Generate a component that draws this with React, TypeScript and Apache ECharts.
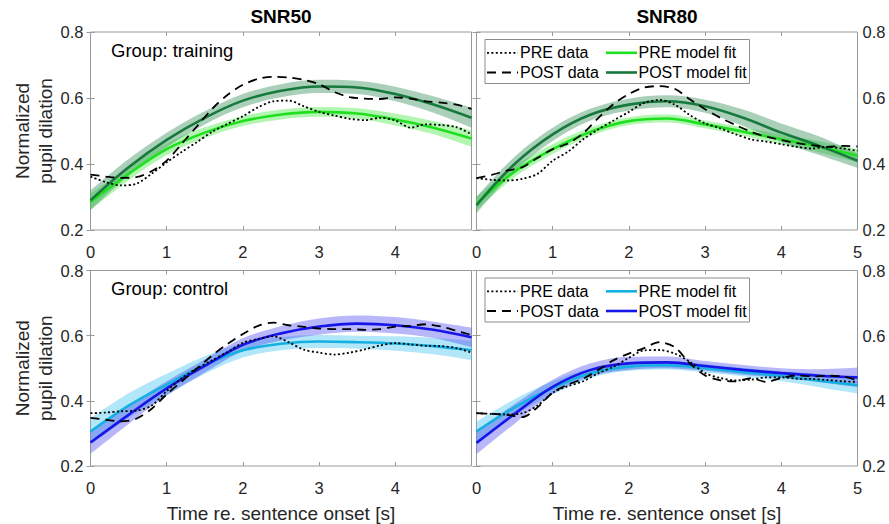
import React, { useEffect, useRef } from "react";
import * as echarts from "echarts";

// ---------- data ----------
const FIT_T = [0, 0.5, 1, 1.5, 2, 2.5, 3, 3.5, 4, 4.5, 5];
const DATA_T = [0, 0.2, 0.4, 0.6, 0.8, 1, 1.2, 1.4, 1.6, 1.8, 2, 2.2, 2.4, 2.6, 2.8, 3, 3.2, 3.4, 3.6, 3.8, 4, 4.2, 4.4, 4.6, 4.8, 5];

const X_TITLE = "Time re. sentence onset [s]";
const Y_TITLE = "Normalized\npupil dilation";
const COLUMN_TITLES = ["SNR50", "SNR80"];
const GROUP_LABELS = ["Group: training", "Group: control"];
const LEGEND_LABELS = ["PRE data", "POST data", "PRE model fit", "POST model fit"];

// training, SNR50
const TRAIN50_PRE_FIT = [0.285, 0.37, 0.445, 0.495, 0.53, 0.55, 0.558, 0.553, 0.535, 0.51, 0.477];
const TRAIN50_PRE_HW = [0.025, 0.02, 0.018, 0.016, 0.015, 0.015, 0.015, 0.016, 0.018, 0.02, 0.025];
const TRAIN50_POST_FIT = [0.29, 0.39, 0.473, 0.54, 0.592, 0.622, 0.635, 0.632, 0.612, 0.58, 0.54];
const TRAIN50_POST_HW = [0.03, 0.025, 0.022, 0.02, 0.02, 0.02, 0.02, 0.02, 0.022, 0.025, 0.03];
const TRAIN50_PRE_DATA = [0.362, 0.345, 0.335, 0.34, 0.37, 0.405, 0.437, 0.467, 0.498, 0.522, 0.545, 0.572, 0.59, 0.592, 0.575, 0.558, 0.547, 0.537, 0.533, 0.54, 0.532, 0.51, 0.52, 0.518, 0.512, 0.49];
const TRAIN50_POST_DATA = [0.368, 0.362, 0.358, 0.36, 0.378, 0.41, 0.462, 0.515, 0.568, 0.61, 0.64, 0.658, 0.664, 0.662, 0.655, 0.642, 0.618, 0.603, 0.598, 0.597, 0.602, 0.598, 0.59, 0.586, 0.58, 0.567];

// training, SNR80
const TRAIN80_PRE_FIT = [0.28, 0.377, 0.445, 0.498, 0.53, 0.538, 0.52, 0.498, 0.475, 0.452, 0.425];
const TRAIN80_PRE_HW = [0.02, 0.017, 0.015, 0.013, 0.012, 0.012, 0.012, 0.013, 0.015, 0.017, 0.02];
const TRAIN80_POST_FIT = [0.275, 0.4, 0.49, 0.55, 0.58, 0.59, 0.575, 0.54, 0.495, 0.455, 0.41];
const TRAIN80_POST_HW = [0.025, 0.022, 0.02, 0.018, 0.018, 0.018, 0.02, 0.025, 0.028, 0.028, 0.022];
const TRAIN80_PRE_DATA = [0.357, 0.352, 0.35, 0.355, 0.37, 0.41, 0.437, 0.475, 0.505, 0.532, 0.558, 0.585, 0.594, 0.58, 0.548, 0.523, 0.508, 0.49, 0.475, 0.468, 0.46, 0.452, 0.447, 0.452, 0.447, 0.44];
const TRAIN80_POST_DATA = [0.357, 0.367, 0.38, 0.39, 0.418, 0.445, 0.462, 0.493, 0.54, 0.582, 0.612, 0.632, 0.636, 0.628, 0.596, 0.566, 0.54, 0.518, 0.498, 0.483, 0.473, 0.463, 0.457, 0.452, 0.455, 0.453];

// control, SNR50
const CTRL50_PRE_FIT = [0.306, 0.385, 0.45, 0.51, 0.555, 0.575, 0.582, 0.58, 0.576, 0.568, 0.555];
const CTRL50_PRE_HW = [0.04, 0.038, 0.033, 0.027, 0.022, 0.02, 0.02, 0.02, 0.022, 0.025, 0.03];
const CTRL50_POST_FIT = [0.272, 0.357, 0.438, 0.507, 0.572, 0.607, 0.628, 0.637, 0.632, 0.618, 0.595];
const CTRL50_POST_HW = [0.035, 0.028, 0.022, 0.02, 0.02, 0.022, 0.025, 0.025, 0.025, 0.025, 0.03];
const CTRL50_PRE_DATA = [0.362, 0.364, 0.368, 0.37, 0.385, 0.43, 0.47, 0.5, 0.525, 0.55, 0.578, 0.59, 0.598, 0.58, 0.557, 0.548, 0.542, 0.548, 0.558, 0.57, 0.577, 0.573, 0.569, 0.568, 0.562, 0.548];
const CTRL50_POST_DATA = [0.348, 0.342, 0.337, 0.345, 0.375, 0.42, 0.46, 0.5, 0.54, 0.575, 0.605, 0.63, 0.64, 0.632, 0.627, 0.622, 0.62, 0.62, 0.618, 0.62, 0.628, 0.63, 0.635, 0.628, 0.615, 0.602];

// control, SNR80
const CTRL80_PRE_FIT = [0.306, 0.38, 0.44, 0.485, 0.505, 0.509, 0.5, 0.488, 0.476, 0.462, 0.448];
const CTRL80_PRE_HW = [0.03, 0.025, 0.02, 0.015, 0.013, 0.013, 0.013, 0.013, 0.015, 0.02, 0.025];
const CTRL80_POST_FIT = [0.271, 0.36, 0.443, 0.495, 0.515, 0.518, 0.507, 0.495, 0.485, 0.477, 0.472];
const CTRL80_POST_HW = [0.035, 0.03, 0.022, 0.02, 0.02, 0.018, 0.015, 0.015, 0.015, 0.02, 0.03];
const CTRL80_PRE_DATA = [0.362, 0.36, 0.358, 0.362, 0.385, 0.425, 0.445, 0.46, 0.485, 0.505, 0.532, 0.555, 0.556, 0.545, 0.52, 0.485, 0.47, 0.463, 0.465, 0.472, 0.472, 0.468, 0.467, 0.464, 0.46, 0.458];
const CTRL80_POST_DATA = [0.362, 0.36, 0.357, 0.35, 0.38, 0.425, 0.45, 0.468, 0.495, 0.525, 0.545, 0.562, 0.58, 0.565, 0.515, 0.478, 0.463, 0.46, 0.47, 0.458, 0.47, 0.478, 0.475, 0.477, 0.475, 0.463];

// ---------- styles ----------
const FONT = "'Liberation Sans', Arial, Helvetica, sans-serif";
const TEXT = "#262626";
const BOX = "#9a9a9a";
const GREEN_PAL = { pre: "#1fe01f", post: "#167a3c", preBand: "#3ee83e", postBand: "#2a8a50" };
const BLUE_PAL = { pre: "#14b0e2", post: "#1616e8", preBand: "#3cc4ee", postBand: "#4a4af0" };

const GRIDS = [
  { left: 90.5, top: 32, width: 381, height: 198 },
  { left: 476.5, top: 32, width: 381, height: 198 },
  { left: 90.5, top: 270.5, width: 381, height: 198 },
  { left: 476.5, top: 270.5, width: 381, height: 198 },
];

const PANELS = [
  { preFit: TRAIN50_PRE_FIT, preHw: TRAIN50_PRE_HW, postFit: TRAIN50_POST_FIT, postHw: TRAIN50_POST_HW, preData: TRAIN50_PRE_DATA, postData: TRAIN50_POST_DATA, pal: GREEN_PAL },
  { preFit: TRAIN80_PRE_FIT, preHw: TRAIN80_PRE_HW, postFit: TRAIN80_POST_FIT, postHw: TRAIN80_POST_HW, preData: TRAIN80_PRE_DATA, postData: TRAIN80_POST_DATA, pal: GREEN_PAL },
  { preFit: CTRL50_PRE_FIT, preHw: CTRL50_PRE_HW, postFit: CTRL50_POST_FIT, postHw: CTRL50_POST_HW, preData: CTRL50_PRE_DATA, postData: CTRL50_POST_DATA, pal: BLUE_PAL },
  { preFit: CTRL80_PRE_FIT, preHw: CTRL80_PRE_HW, postFit: CTRL80_POST_FIT, postHw: CTRL80_POST_HW, preData: CTRL80_PRE_DATA, postData: CTRL80_POST_DATA, pal: BLUE_PAL },
];

const DOTTED = [2, 2.4];
const DASHED = [9, 6];
const FIT_SMOOTH = 0.35;

// Confidence band: a stacked pair of line series. Each point is given as
// [value, time] with encode {x: 1, y: 0} so that the stacked dimension is
// the value (not the time).
function bandSeries(i: number, key: string, fit: number[], hw: number[], color: string) {
  const lower = FIT_T.map((t, k) => [fit[k] - hw[k], t]);
  const width = FIT_T.map((t, k) => [2 * hw[k], t]);
  const common = {
    type: "line",
    xAxisIndex: 2 * i,
    yAxisIndex: 2 * i,
    stack: `band-${i}-${key}`,
    encode: { x: 1, y: 0 },
    smooth: FIT_SMOOTH,
    symbol: "none",
    silent: true,
    lineStyle: { width: 0, opacity: 0 },
    z: 1,
  };
  return [
    { ...common, data: lower },
    { ...common, data: width, areaStyle: { color, opacity: 0.4 } },
  ];
}

function lineSeries(i: number, xs: number[], ys: number[], color: string, width: number, type: any, z: number, smooth: number) {
  return {
    type: "line",
    xAxisIndex: 2 * i,
    yAxisIndex: 2 * i,
    data: xs.map((t, k) => [t, ys[k]]),
    smooth,
    symbol: "none",
    silent: true,
    lineStyle: { color, width, type },
    z,
  };
}

function buildOption() {
  const series: any[] = [];
  PANELS.forEach((p, i) => {
    series.push(...bandSeries(i, "pre", p.preFit, p.preHw, p.pal.preBand));
    series.push(...bandSeries(i, "post", p.postFit, p.postHw, p.pal.postBand));
    series.push(lineSeries(i, FIT_T, p.preFit, p.pal.pre, 2.6, "solid", 3, FIT_SMOOTH));
    series.push(lineSeries(i, FIT_T, p.postFit, p.pal.post, 2.6, "solid", 3, FIT_SMOOTH));
    series.push(lineSeries(i, DATA_T, p.preData, "#000", 1.8, DOTTED, 4, 0.3));
    series.push(lineSeries(i, DATA_T, p.postData, "#000", 1.8, DASHED, 4, 0.3));
  });

  const xAxis: any[] = [];
  const yAxis: any[] = [];
  GRIDS.forEach((_, i) => {
    const isLeft = i % 2 === 0;
    const isBottom = i >= 2;
    const tick = { show: true, inside: true, length: 4, lineStyle: { color: BOX, width: 1 } };
    xAxis.push({
      type: "value", gridIndex: i, min: 0, max: 5, interval: 1, position: "bottom",
      axisLine: { show: false }, axisTick: tick, splitLine: { show: false },
      axisLabel: { fontSize: 16.5, color: TEXT, fontFamily: FONT, margin: 13, showMaxLabel: !isLeft, showMinLabel: true },
      name: isBottom ? X_TITLE : "", nameLocation: "middle", nameGap: 38,
      nameTextStyle: { fontSize: 19, color: TEXT, fontFamily: FONT },
    });
    xAxis.push({
      type: "value", gridIndex: i, min: 0, max: 5, interval: 1, position: "top",
      axisLine: { show: false }, axisTick: tick, splitLine: { show: false }, axisLabel: { show: false },
    });
    yAxis.push({
      type: "value", gridIndex: i, min: 0.2, max: 0.8, interval: 0.2, position: "left",
      axisLine: { show: false }, axisTick: tick, splitLine: { show: false },
      axisLabel: { show: isLeft, fontSize: 16.5, color: TEXT, fontFamily: FONT, margin: 7, formatter: (v: number) => v.toFixed(1) },
      name: isLeft ? Y_TITLE : "", nameLocation: "middle", nameGap: 30, nameRotate: 90,
      nameTextStyle: { fontSize: 19, color: TEXT, fontFamily: FONT, lineHeight: 23 },
    });
    yAxis.push({
      type: "value", gridIndex: i, min: 0.2, max: 0.8, interval: 0.2, position: "right",
      axisLine: { show: false }, axisTick: tick, splitLine: { show: false },
      axisLabel: { show: !isLeft, fontSize: 16.5, color: TEXT, fontFamily: FONT, margin: 5, formatter: (v: number) => v.toFixed(1) },
    });
  });

  const graphic: any[] = [];
  COLUMN_TITLES.forEach((t, c) => {
    const g = GRIDS[c];
    graphic.push({
      type: "text", x: g.left + g.width / 2, y: 16, z: 50,
      style: { text: t, font: `bold 19px ${FONT}`, fill: "#000", align: "center", verticalAlign: "middle" },
    });
  });
  GROUP_LABELS.forEach((t, r) => {
    const g = GRIDS[r * 2];
    graphic.push({
      type: "text", x: g.left + 20.5, y: g.top + 18, z: 50,
      style: { text: t, font: `18.5px ${FONT}`, fill: "#000", align: "left", verticalAlign: "middle" },
    });
  });
  [1, 3].forEach((gi) => {
    const g = GRIDS[gi];
    const pal = PANELS[gi].pal;
    const x0 = g.left + 8.5;
    const y0 = g.top + 7.5;
    const r1 = y0 + 13.3;
    const r2 = y0 + 33;
    const children: any[] = [
      { type: "rect", shape: { x: x0, y: y0, width: 264.5, height: 44 }, style: { fill: "#fff", stroke: "#8c8c8c", lineWidth: 1 } },
      { type: "line", shape: { x1: x0 + 2, y1: r1, x2: x0 + 33, y2: r1 }, style: { stroke: "#000", lineWidth: 1.8, lineDash: DOTTED } },
      { type: "line", shape: { x1: x0 + 2, y1: r2, x2: x0 + 33, y2: r2 }, style: { stroke: "#000", lineWidth: 1.8, lineDash: DASHED } },
      { type: "line", shape: { x1: x0 + 121, y1: r1, x2: x0 + 152, y2: r1 }, style: { stroke: pal.pre, lineWidth: 2.6 } },
      { type: "line", shape: { x1: x0 + 121, y1: r2, x2: x0 + 152, y2: r2 }, style: { stroke: pal.post, lineWidth: 2.6 } },
      { type: "text", x: x0 + 35, y: r1, style: { text: LEGEND_LABELS[0], font: `16px ${FONT}`, fill: "#000", verticalAlign: "middle" } },
      { type: "text", x: x0 + 35, y: r2, style: { text: LEGEND_LABELS[1], font: `16px ${FONT}`, fill: "#000", verticalAlign: "middle" } },
      { type: "text", x: x0 + 153.5, y: r1, style: { text: LEGEND_LABELS[2], font: `16px ${FONT}`, fill: "#000", verticalAlign: "middle" } },
      { type: "text", x: x0 + 153.5, y: r2, style: { text: LEGEND_LABELS[3], font: `16px ${FONT}`, fill: "#000", verticalAlign: "middle" } },
    ];
    graphic.push({ type: "group", z: 100, children });
  });

  return {
    animation: false,
    backgroundColor: "#fff",
    grid: GRIDS.map((g) => ({ ...g, show: true, borderColor: BOX, borderWidth: 1, backgroundColor: "transparent" })),
    xAxis,
    yAxis,
    series,
    graphic,
  };
}

export default function App() {
  const ref = useRef<HTMLDivElement>(null);
  useEffect(() => {
    document.body.style.margin = "0";
    if (!ref.current) return;
    const chart = echarts.init(ref.current, undefined, { renderer: "svg" });
    chart.setOption(buildOption() as any);
    return () => chart.dispose();
  }, []);
  return <div ref={ref} style={{ width: 889, height: 524 }} />;
}
